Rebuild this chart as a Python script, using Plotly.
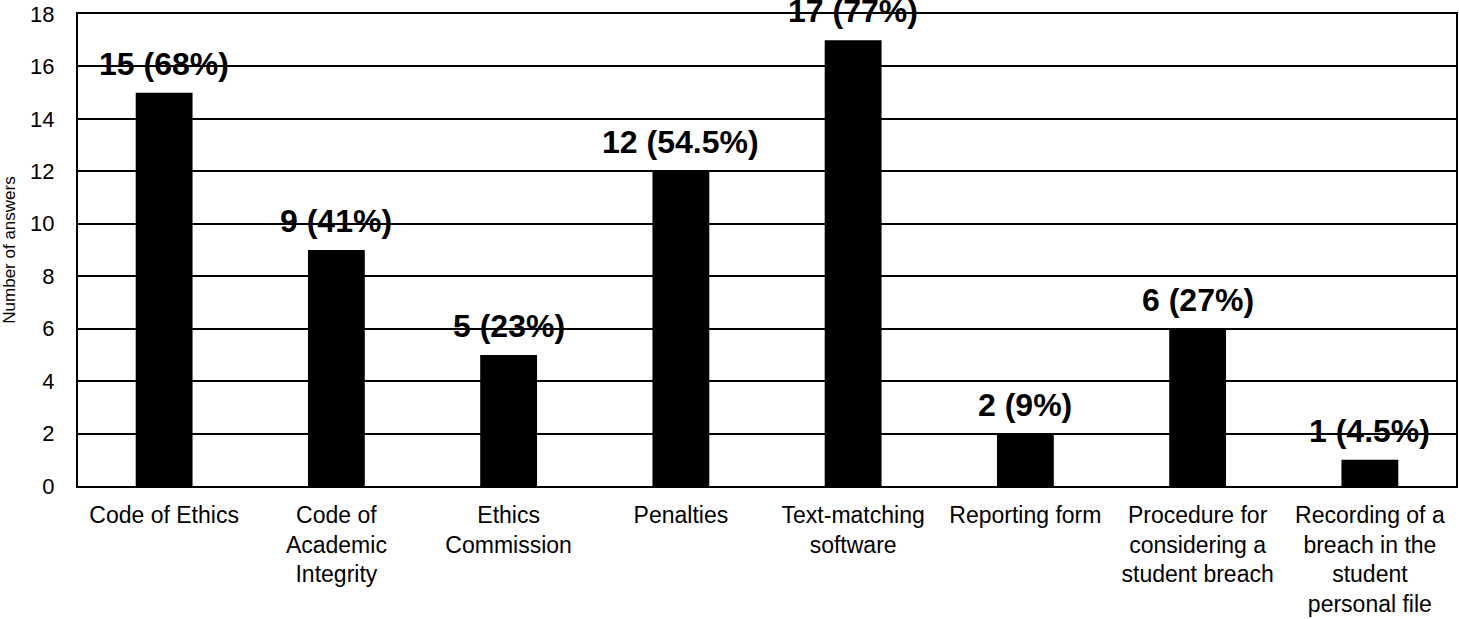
import plotly.graph_objects as go

categories = [
    "Code of Ethics",
    "Code of<br>Academic<br>Integrity",
    "Ethics<br>Commission",
    "Penalties",
    "Text-matching<br>software",
    "Reporting form",
    "Procedure for<br>considering a<br>student breach",
    "Recording of a<br>breach in the<br>student<br>personal file",
]
values = [15, 9, 5, 12, 17, 2, 6, 1]
labels = ["15 (68%)", "9 (41%)", "5 (23%)", "12 (54.5%)", "17 (77%)", "2 (9%)", "6 (27%)", "1 (4.5%)"]
y_ticks = [0, 2, 4, 6, 8, 10, 12, 14, 16, 18]

fig = go.Figure()
fig.add_trace(go.Bar(x=categories, y=values, marker=dict(color="black", line=dict(width=0)), width=0.33))

for c, v, t in zip(categories, values, labels):
    fig.add_annotation(x=c, y=v, text="<b>%s</b>" % t, showarrow=False, yanchor="bottom",
                       yshift=9, font=dict(family="Liberation Sans, Arial", size=32, color="black"))

fig.update_layout(
    width=1459, height=619,
    margin=dict(l=78, r=3, t=14, b=133),
    paper_bgcolor="white", plot_bgcolor="white",
    showlegend=False,
    font=dict(family="Liberation Sans, Arial", color="black"),
)
fig.update_xaxes(showline=True, mirror=True, linecolor="black", linewidth=2, automargin=False,
                 tickfont=dict(size=23), ticks="", showgrid=False, ticklabelstandoff=7)
fig.update_yaxes(range=[0, 18], tickvals=y_ticks, showline=True, mirror=True, linecolor="black", linewidth=2,
                 showgrid=True, gridcolor="black", gridwidth=1.5, zeroline=False, automargin=False,
                 tickfont=dict(size=22), ticks="", ticklabelstandoff=17,
                 title=dict(text="Number of answers", font=dict(size=17), standoff=10))

fig.write_html("out.html", config={"displayModeBar": False},
               post_script="document.body.style.margin='0';")
